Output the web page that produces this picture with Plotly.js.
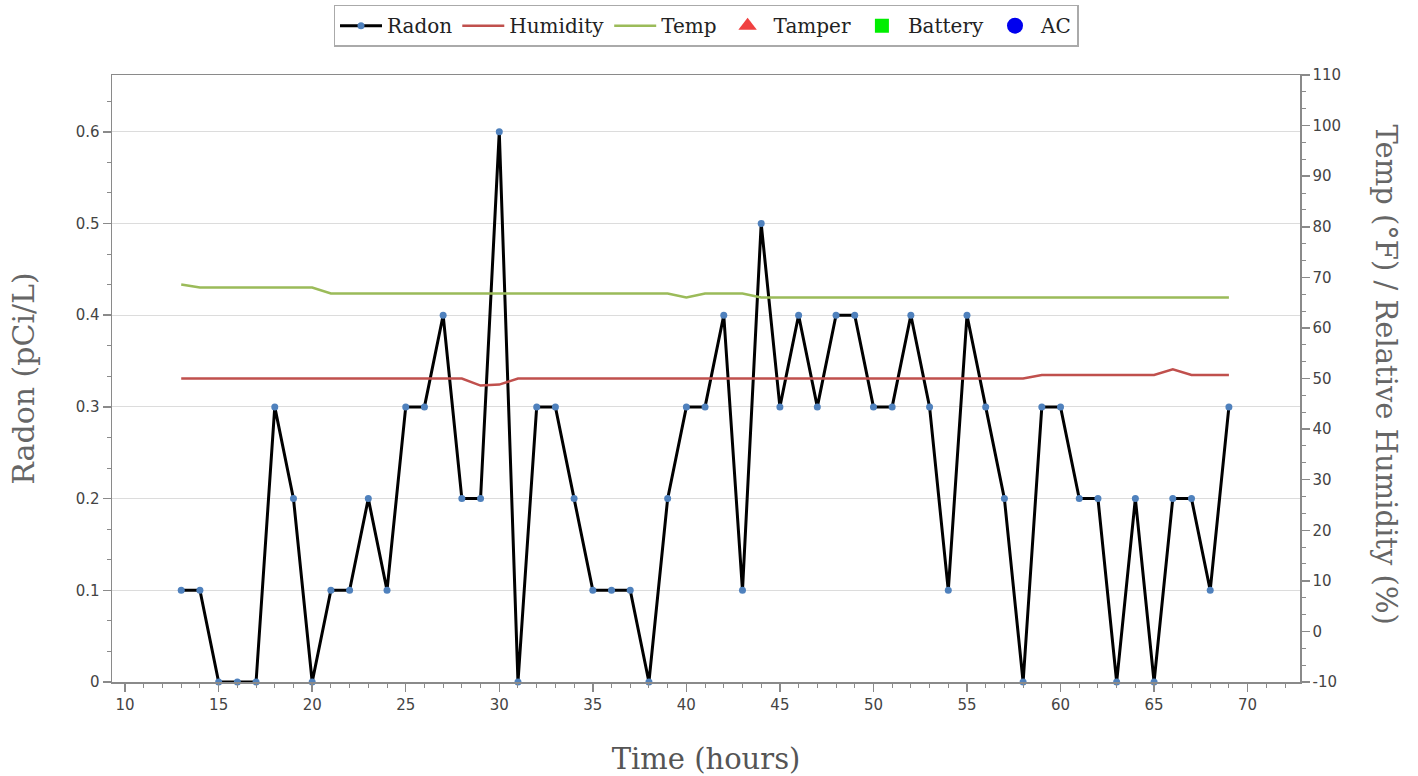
<!DOCTYPE html>
<html>
<head>
<meta charset="utf-8">
<script src="https://cdn.plot.ly/plotly-3.0.1.min.js"></script>
<style>
html,body{margin:0;padding:0;background:#fff;}
#chart{width:1418px;height:776px;}
</style>
</head>
<body>
<div id="chart"></div>
<script>
// Time (hours)
var hours = [13,14,15,16,17,18,19,20,21,22,23,24,25,26,27,28,29,30,31,32,33,34,35,36,37,38,39,40,41,
             42,43,44,45,46,47,48,49,50,51,52,53,54,55,56,57,58,59,60,61,62,63,64,65,66,67,68,69];
// Radon (pCi/L)
var radon = [0.1,0.1,0,0,0,0.3,0.2,0,0.1,0.1,0.2,0.1,0.3,0.3,0.4,0.2,0.2,0.6,0,0.3,0.3,0.2,0.1,0.1,0.1,0,0.2,0.3,0.3,
             0.4,0.1,0.5,0.3,0.4,0.3,0.4,0.4,0.3,0.3,0.4,0.3,0.1,0.4,0.3,0.2,0,0.3,0.3,0.2,0.2,0,0.2,0,0.2,0.2,0.1,0.3];
// Relative humidity (%)
var humidity = [50,50,50,50,50,50,50,50,50,50,50,50,50,50,50,50,48.6,48.8,50,50,50,50,50,50,50,50,50,50,50,
                50,50,50,50,50,50,50,50,50,50,50,50,50,50,50,50,50,50.7,50.7,50.7,50.7,50.7,50.7,50.7,51.8,50.7,50.7,50.7];
// Temp (°F)
var temp = [68.6,68,68,68,68,68,68,68,66.8,66.8,66.8,66.8,66.8,66.8,66.8,66.8,66.8,66.8,66.8,66.8,66.8,66.8,66.8,66.8,66.8,66.8,66.8,66,66.8,
            66.8,66.8,66,66,66,66,66,66,66,66,66,66,66,66,66,66,66,66,66,66,66,66,66,66,66,66,66,66];
// Event series (no events recorded)
var tamperX = [null], tamperY = [null];
var batteryX = [null], batteryY = [null];
var acX = [null], acY = [null];
// Right axis tick labels
var rightTicks = [-10,0,10,20,30,40,50,60,70,80,90,100,110];
var rightTickText = ['-10','0','10','20','30','40','50','60','70','80','90','100','110'];

var serif = '"DejaVu Serif", "Liberation Serif", serif';
var sans = '"DejaVu Sans", Verdana, sans-serif';

var traces = [
  {x: hours, y: radon, name: 'Radon', type: 'scatter', mode: 'lines+markers', yaxis: 'y',
   line: {color: '#000000', width: 3}, marker: {color: '#4f81bd', size: 7}, cliponaxis: false},
  {x: hours, y: humidity, name: 'Humidity', type: 'scatter', mode: 'lines', yaxis: 'y2',
   line: {color: '#c0504d', width: 2.5}},
  {x: hours, y: temp, name: 'Temp', type: 'scatter', mode: 'lines', yaxis: 'y2',
   line: {color: '#9bbb59', width: 2.5}},
  {x: tamperX, y: tamperY, name: 'Tamper', type: 'scatter', mode: 'markers', yaxis: 'y',
   marker: {color: '#f04040', symbol: 'triangle-up', size: 16}},
  {x: batteryX, y: batteryY, name: 'Battery', type: 'scatter', mode: 'markers', yaxis: 'y',
   marker: {color: '#00ee00', symbol: 'square', size: 14}},
  {x: acX, y: acY, name: 'AC', type: 'scatter', mode: 'markers', yaxis: 'y',
   marker: {color: '#0000ee', symbol: 'circle', size: 18}}
];

var axisCol = '#8a8a8a';
var layout = {
  width: 1418, height: 776,
  margin: {l: 112, r: 118, t: 75, b: 94, autoexpand: false},
  paper_bgcolor: '#ffffff', plot_bgcolor: '#ffffff',
  showlegend: true,
  legend: {orientation: 'h', x: 0.5, xanchor: 'center', xref: 'paper', y: 0.994, yanchor: 'top', yref: 'container',
           bgcolor: '#ffffff', bordercolor: '#aaaaaa', borderwidth: 1.5,
           font: {family: serif, size: 20, color: '#222'}, itemwidth: 42, tracegroupgap: 0},
  xaxis: {
    range: [9.3, 72.8], dtick: 5, tick0: 0, ticks: 'outside', ticklen: 8, tickwidth: 1.5, tickcolor: axisCol,
    showline: true, linecolor: axisCol, linewidth: 1.5, mirror: true, showgrid: false, zeroline: false,
    tickfont: {family: sans, size: 15, color: '#444'},
    minor: {dtick: 1, ticks: 'outside', ticklen: 4, tickcolor: axisCol, tickwidth: 1, showgrid: false},
    title: {text: 'Time (hours)', font: {family: serif, size: 29, color: '#555'}, standoff: 38}
  },
  yaxis: {
    range: [0, 0.662], dtick: 0.1, tick0: 0, ticks: 'outside', ticklen: 8, tickwidth: 1.5, tickcolor: axisCol,
    showline: true, linecolor: axisCol, linewidth: 1.5, mirror: true,
    showgrid: true, gridcolor: '#dcdcdc', gridwidth: 1, zeroline: false,
    tickfont: {family: sans, size: 15, color: '#444'},
    minor: {dtick: 0.1/3, ticks: 'outside', ticklen: 4, tickcolor: axisCol, tickwidth: 1, showgrid: false},
    title: {text: 'Radon (pCi/L)', font: {family: serif, size: 30, color: '#666'}, standoff: 32}
  },
  yaxis2: {
    overlaying: 'y', side: 'right', range: [-10, 110], tickmode: 'array', tickvals: rightTicks, ticktext: rightTickText,
    ticks: 'outside', ticklen: 8, tickwidth: 1.5, tickcolor: axisCol,
    showline: true, linecolor: axisCol, linewidth: 1.5, showgrid: false, zeroline: false,
    tickfont: {family: sans, size: 15, color: '#444'},
    minor: {tickmode: 'linear', tick0: 0, dtick: 10/3, ticks: 'outside', ticklen: 4, tickcolor: axisCol, tickwidth: 1, showgrid: false}
  },
  annotations: [{
    text: 'Temp (°F) / Relative Humidity (%)', textangle: 90, showarrow: false,
    xref: 'paper', yref: 'paper', x: (1386 - 112) / 1188, y: 0.5 + 4 / 607, xanchor: 'center', yanchor: 'middle',
    font: {family: serif, size: 29, color: '#666'}
  }]
};

Plotly.newPlot('chart', traces, layout, {displayModeBar: false, staticPlot: true});
</script>
</body>
</html>
